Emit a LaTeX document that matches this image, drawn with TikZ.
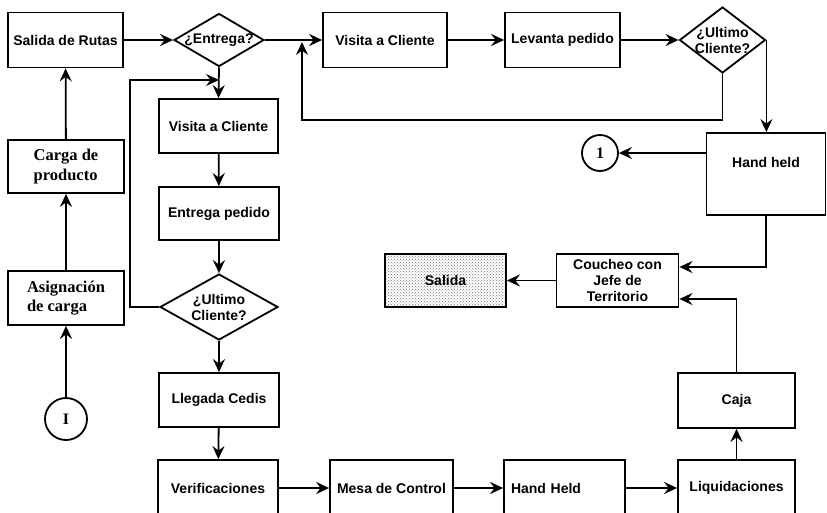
\documentclass[tikz,border=0pt]{standalone}
\usepackage{fontspec}
\setmainfont{Liberation Serif}
\setsansfont{Liberation Sans}
\usetikzlibrary{shapes.geometric,arrows.meta,patterns,calc}
\begin{document}
\begin{tikzpicture}[x=1pt,y=-1pt,
  line width=1.8pt,
  sf/.style={font=\sffamily\bfseries\fontsize{14}{16}\selectfont},
  box/.style={sf, draw, rectangle, inner sep=2pt, align=center, fill=white},
  sbox/.style={draw, rectangle, inner sep=2pt, align=left, fill=white,
    font=\rmfamily\bfseries\fontsize{16.5}{19.5}\selectfont},
  dia/.style={draw, diamond, inner sep=0pt, fill=white},
  dlabel/.style={sf, align=center, inner sep=0pt},
  conn/.style={circle, draw, inner sep=0pt, font=\rmfamily\bfseries\fontsize{16}{16}\selectfont},
  arr/.style={-{Stealth[length=13pt,width=12pt,inset=4.5pt]}},
]
\useasboundingbox (0,0) rectangle (827,513);
\clip (0,0) rectangle (827,513);

% top row
\node[box, minimum width=115pt, minimum height=55pt] (rutas) at (65.5,40) {Salida de Rutas};
\node[dia, minimum width=90pt, minimum height=53pt, label={[dlabel]center:{¿Entrega?}}] (entrega) at (219,40) {};
\node[box, minimum width=124pt, minimum height=55pt] (visita1) at (385,40) {Visita a Cliente};
\node[box, minimum width=115pt, minimum height=55pt] (levanta) at (562.5,40) {Levanta pedido};
\node[dia, minimum width=86pt, minimum height=66pt, label={[dlabel]center:{¿Ultimo\\Cliente?}}] (ult1) at (722.5,40) {};

% right side
\node[box, minimum width=119pt, minimum height=82pt, label={[sf, yshift=12pt]center:Hand held}] (hh1) at (766,174) {};
\node[conn, minimum size=36pt] (c1) at (600,153) {1};
\node[box, minimum width=122pt, minimum height=53pt] (coucheo) at (617.5,280.5) {Coucheo con\\Jefe de\\Territorio};
\node[box, minimum width=121pt, minimum height=53pt, pattern=crosshatch dots, pattern color=black!55] (salida) at (445.5,280.5) {Salida};
\node[box, minimum width=117pt, minimum height=55pt] (caja) at (736.5,400.5) {Caja};

% middle column
\node[box, minimum width=119pt, minimum height=54pt] (visita2) at (218.5,126) {Visita a Cliente};
\node[box, minimum width=120pt, minimum height=53pt] (entrega2) at (219,213.5) {Entrega pedido};
\node[dia, minimum width=118pt, minimum height=66pt, label={[dlabel]center:{¿Ultimo\\Cliente?}}] (ult2) at (219,307) {};
\node[box, minimum width=120pt, minimum height=54pt] (llegada) at (219,400) {Llegada Cedis};

% bottom row
\node[box, minimum width=120pt, minimum height=56pt] (verif) at (218,488) {Verificaciones};
\node[box, minimum width=123pt, minimum height=56pt] (mesa) at (391.5,488) {Mesa de Control};
\node[box, minimum width=121pt, minimum height=56pt, text width=107pt, align=left] (hh2) at (564.5,488) {Hand Held};
\node[box, minimum width=117pt, minimum height=56pt] (liq) at (736.5,488) {Liquidaciones};

% left column
\node[sbox, minimum width=116pt, minimum height=53pt] (carga) at (66,166.5) {Carga de\\producto};
\node[sbox, minimum width=116pt, minimum height=54pt] (asign) at (66,298) {Asignación\\de carga};
\node[conn, minimum size=42pt] (c2) at (66,419) {I};

% loop coordinates
\coordinate (l1) at (302,120);
\coordinate (l2) at (130,80);

% connectors
\draw[arr] (rutas) -- (entrega.west);
\draw[arr] (entrega.east) -- (visita1.west);
\draw[arr] (visita1) -- (levanta);
\draw[arr] (levanta.east) -- (ult1.west);
\draw[arr] (ult1.east) -- (ult1.east |- hh1.north);
\draw[arr] (ult1.south) |- (l1) -- ($(l1 |- visita1.west)+(0,2)$);
\draw[arr] (hh1.west |- c1.east) -- (c1.east);
\draw[arr] (hh1.south) |- ($(coucheo.east)+(0,-13.5)$);
\draw[arr] (coucheo.west) -- (salida.east);
\draw[arr] (caja.north) |- ($(coucheo.east)+(0,18.5)$);
\draw[arr] (liq.north) -- (caja.south);

\draw[arr] (entrega.south) -- (visita2.north);
\draw[arr] (visita2) -- (entrega2);
\draw[arr] (entrega2.south) -- (ult2.north);
\draw[arr] (ult2.south) -- (llegada.north);
\draw[arr] (llegada) -- (verif);
\draw[arr] (ult2.west) -| (l2) -- (entrega.south |- l2);

\draw[arr] (verif) -- (mesa);
\draw[arr] (mesa) -- (hh2);
\draw[arr] (hh2) -- (liq);

\draw[arr] (c2) -- (asign);
\draw[arr] (asign) -- (carga);
\draw[arr] (carga) -- (rutas);
\end{tikzpicture}
\end{document}
